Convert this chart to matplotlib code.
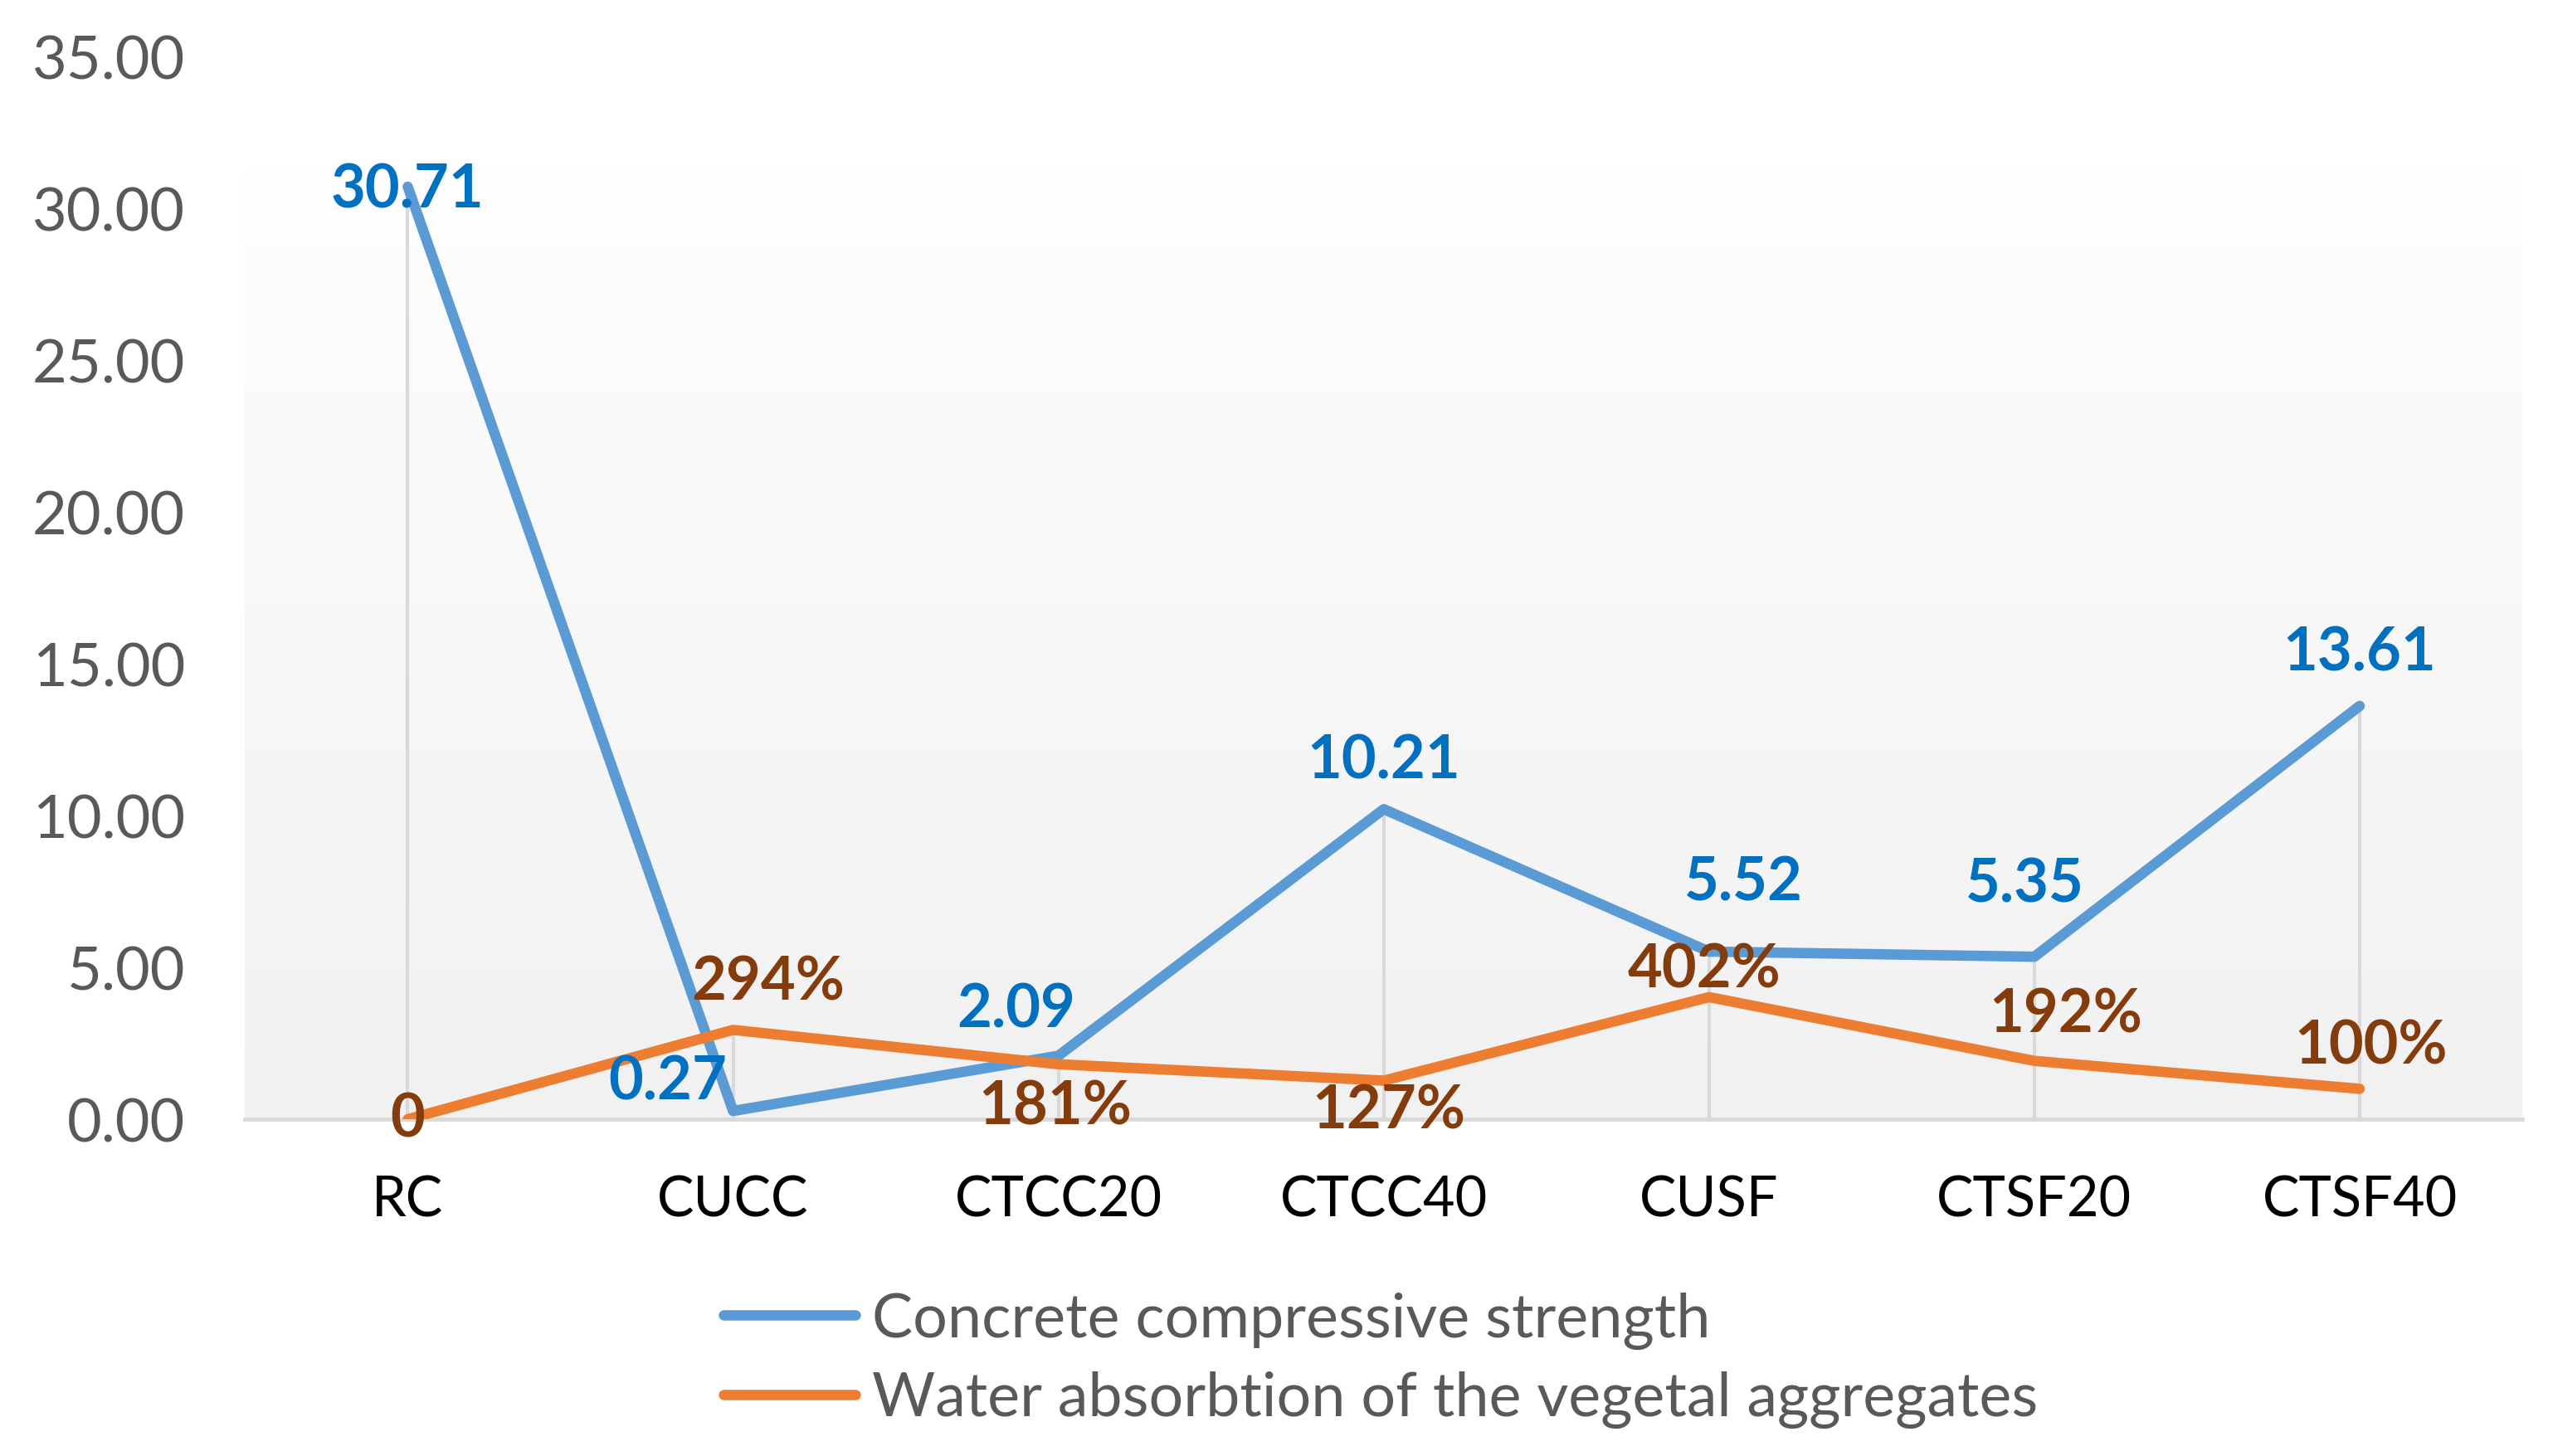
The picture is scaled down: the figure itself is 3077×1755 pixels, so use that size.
import numpy as np
import matplotlib
matplotlib.use("Agg")
import matplotlib.pyplot as plt
from matplotlib.colors import LinearSegmentedColormap

# data
categories = ["RC", "CUCC", "CTCC20", "CTCC40", "CUSF", "CTSF20", "CTSF40"]
strength = [30.71, 0.27, 2.09, 10.21, 5.52, 5.35, 13.61]
absorption_pct = [0, 294, 181, 127, 402, 192, 100]
strength_labels = ["30.71", "0.27", "2.09", "10.21", "5.52", "5.35", "13.61"]
absorption_labels = ["0", "294%", "181%", "127%", "402%", "192%", "100%"]
yticks = [0, 5, 10, 15, 20, 25, 30, 35]

# label offsets (points)
s_off = [(0, -3), (-57, 25), (-37, 40), (0, 42), (30, 60), (-8, 63), (0, 46)]
a_off = [(0, 0), (30, 41), (-3, -37), (4, -26), (-4, 24), (27, 40), (10, 37)]

blue = "#5B9BD5"
orange = "#ED7D31"
blue_txt = "#0070C0"
brown_txt = "#843C0C"
grey_txt = "#595959"

plt.rcParams["font.family"] = ["Lato", "DejaVu Sans"]

fig = plt.figure(figsize=(30.77, 17.56), dpi=100)
ax = fig.add_axes([0.096, 0.2312, 0.892, 0.7295])

x = np.arange(len(categories))
absorption = [v / 100 for v in absorption_pct]

# gradient plot area
grad = np.linspace(0, 1, 256).reshape(-1, 1)
cmap = LinearSegmentedColormap.from_list("bg", ["#f1f1f1", "#fefefe"])
ax.imshow(grad, cmap=cmap, aspect="auto", origin="lower",
          extent=[-0.5, 6.5, 0, 31.3], zorder=0)

# drop lines
tops = [max(s, a) for s, a in zip(strength, absorption)]
ax.vlines(x, 0, tops, color="#d9d9d9", lw=3, zorder=1)

ax.plot(x, strength, color=blue, lw=9, solid_joinstyle="round",
        solid_capstyle="round", zorder=3, label="Concrete compressive strength")
ax.plot(x, absorption, color=orange, lw=9, solid_joinstyle="round",
        solid_capstyle="round", zorder=4, label="Water absorbtion of the vegetal aggregates")

for xi, yi, lab, off in zip(x, strength, strength_labels, s_off):
    ax.annotate(lab, (xi, yi), xytext=off, textcoords="offset points",
                ha="center", va="center", fontsize=52, fontweight="bold",
                color=blue_txt, zorder=6)
for xi, yi, lab, off in zip(x, absorption, absorption_labels, a_off):
    ax.annotate(lab, (xi, yi), xytext=off, textcoords="offset points",
                ha="center", va="center", fontsize=52, fontweight="bold",
                color=brown_txt, zorder=6)

ax.set_xlim(-0.5, 6.5)
ax.set_ylim(0, 35)
ax.set_yticks(yticks)
ax.set_yticklabels([f"{v:.2f}" for v in yticks])
ax.set_xticks(x)
ax.set_xticklabels(categories)
ax.tick_params(axis="y", length=0, pad=52, labelsize=52, labelcolor=grey_txt)
ax.tick_params(axis="x", length=0, pad=48, labelsize=48, labelcolor="black")

for side in ["top", "right", "left"]:
    ax.spines[side].set_visible(False)
ax.spines["bottom"].set_color("#d9d9d9")
ax.spines["bottom"].set_linewidth(3.5)
ax.spines["bottom"].set_zorder(2)
ax.set_facecolor("white")

leg = fig.legend(loc="center left", bbox_to_anchor=(0.262, 0.066), frameon=False,
                 fontsize=53, handlelength=2.15, handletextpad=0.27, labelspacing=0.36,
                 labelcolor=grey_txt)

fig.savefig("out.png", dpi=100)
